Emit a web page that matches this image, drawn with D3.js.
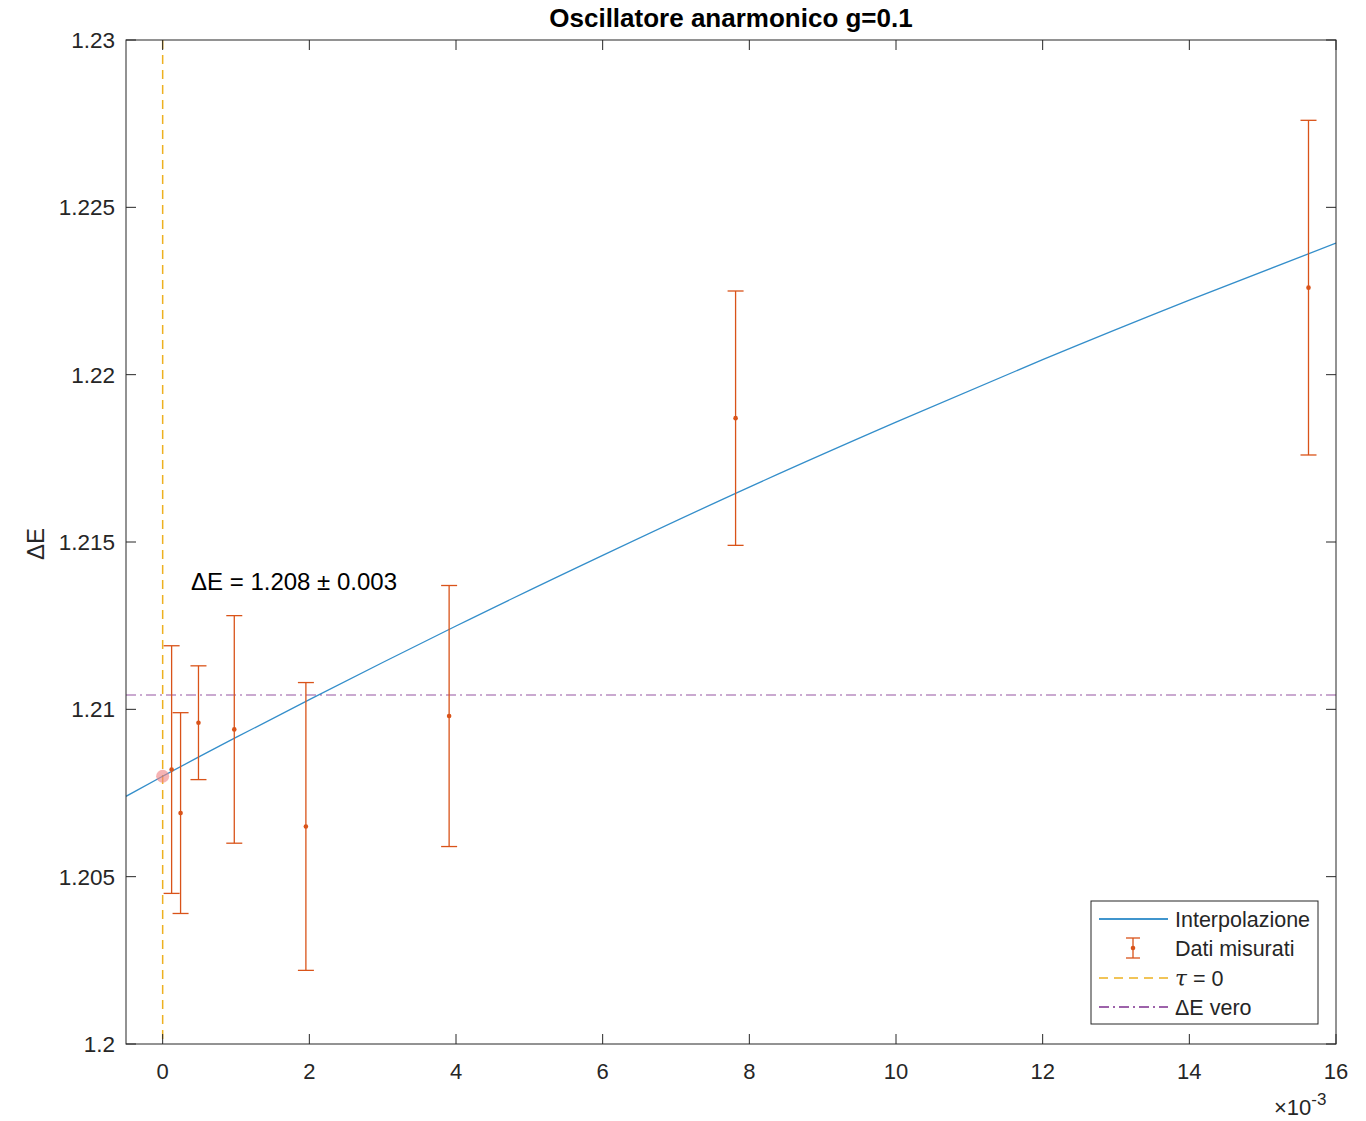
<!DOCTYPE html>
<html><head><meta charset="utf-8">
<script src="https://cdn.jsdelivr.net/npm/d3@7"></script>
<style>body{margin:0;background:#fff}text{font-family:"Liberation Sans",Arial,Helvetica,sans-serif}</style>
</head><body>
<svg id="c" width="1366" height="1121"></svg>
<script>
// data (x in units of 1e-3)
const tau2 = [0.1220703, 0.2441406, 0.4882813, 0.9765625, 1.953125, 3.90625, 7.8125, 15.625];
const deltaE = [1.2082, 1.2069, 1.2096, 1.2094, 1.2065, 1.2098, 1.2187, 1.2226];
const errs = [0.0037, 0.0030, 0.0017, 0.0034, 0.0043, 0.0039, 0.0038, 0.0050];
const fitX = [-0.5, 0, 1, 2, 3, 4, 6, 8, 10, 12, 14, 16];
const fitY = [1.2074, 1.2080, 1.20916, 1.21029, 1.21140, 1.21249, 1.21460, 1.21664, 1.21858, 1.22045, 1.22223, 1.22393];
const trueDE = 1.21043;
const extrap = {x: 0, y: 1.208};
const xTicks = [0, 2, 4, 6, 8, 10, 12, 14, 16];
const yTicks = [1.2, 1.205, 1.21, 1.215, 1.22, 1.225, 1.23];
const yTickLabels = ["1.2", "1.205", "1.21", "1.215", "1.22", "1.225", "1.23"];
const legendLabels = ["Interpolazione", "Dati misurati", "τ = 0", "ΔE vero"];

const svg = d3.select("#c");
const L = 126, R = 1336, T = 40, B = 1044;
const x = d3.scaleLinear().domain([-0.5, 16]).range([L, R]);
const y = d3.scaleLinear().domain([1.2, 1.23]).range([B, T]);
const axisCol = "#262626";
const blue = "#0072BD", orange = "#D95319", yellow = "#EDB120", purple = "#7E2F8E";

const g = svg.append("g");
svg.append("defs").append("clipPath").attr("id", "clip").append("rect")
  .attr("x", L).attr("y", T).attr("width", R - L).attr("height", B - T);
const plot = g.append("g").attr("clip-path", "url(#clip)");

// tau=0 line
plot.append("line").attr("x1", x(0)).attr("x2", x(0)).attr("y1", T).attr("y2", B)
  .attr("stroke", yellow).attr("stroke-width", 1.5).attr("stroke-dasharray", "9,6");
// true line
plot.append("line").attr("x1", L).attr("x2", R).attr("y1", y(trueDE)).attr("y2", y(trueDE))
  .attr("stroke", purple).attr("stroke-opacity", 0.55).attr("stroke-width", 1.5).attr("stroke-dasharray", "10,4,2,4");
// fit
plot.append("path").datum(fitX.map((d, i) => [d, fitY[i]]))
  .attr("d", d3.line().x(d => x(d[0])).y(d => y(d[1])).curve(d3.curveMonotoneX))
  .attr("fill", "none").attr("stroke", blue).attr("stroke-opacity", 0.8).attr("stroke-width", 1.3);
// extrapolated point
plot.append("circle").attr("cx", x(extrap.x)).attr("cy", y(extrap.y)).attr("r", 6.5)
  .attr("fill", "#f08080").attr("fill-opacity", 0.6);
// error bars
const eb = plot.selectAll(".eb").data(tau2.map((d, i) => ({x: d, y: deltaE[i], e: errs[i]}))).enter().append("g");
eb.append("line").attr("x1", d => x(d.x)).attr("x2", d => x(d.x)).attr("y1", d => y(d.y - d.e)).attr("y2", d => y(d.y + d.e))
  .attr("stroke", orange).attr("stroke-width", 1.3);
eb.append("line").attr("x1", d => x(d.x) - 8).attr("x2", d => x(d.x) + 8).attr("y1", d => y(d.y + d.e)).attr("y2", d => y(d.y + d.e))
  .attr("stroke", orange).attr("stroke-width", 1.3);
eb.append("line").attr("x1", d => x(d.x) - 8).attr("x2", d => x(d.x) + 8).attr("y1", d => y(d.y - d.e)).attr("y2", d => y(d.y - d.e))
  .attr("stroke", orange).attr("stroke-width", 1.3);
eb.append("circle").attr("cx", d => x(d.x)).attr("cy", d => y(d.y)).attr("r", 2.3).attr("fill", orange);

// axes box
g.append("rect").attr("x", L).attr("y", T).attr("width", R - L).attr("height", B - T)
  .attr("fill", "none").attr("stroke", axisCol).attr("stroke-width", 1);
const tl = 10;
const ax = g.append("g");
xTicks.forEach(t => {
  ax.append("line").attr("x1", x(t)).attr("x2", x(t)).attr("y1", B).attr("y2", B - tl).attr("stroke", axisCol);
  ax.append("line").attr("x1", x(t)).attr("x2", x(t)).attr("y1", T).attr("y2", T + tl).attr("stroke", axisCol);
  ax.append("text").attr("x", x(t)).attr("y", 1079).attr("text-anchor", "middle").attr("font-size", 22)
    .attr("fill", axisCol).text(t);
});
yTicks.forEach((t, i) => {
  ax.append("line").attr("x1", L).attr("x2", L + tl).attr("y1", y(t)).attr("y2", y(t)).attr("stroke", axisCol);
  ax.append("line").attr("x1", R).attr("x2", R - tl).attr("y1", y(t)).attr("y2", y(t)).attr("stroke", axisCol);
  ax.append("text").attr("x", 115).attr("y", y(t) + 8).attr("text-anchor", "end").attr("font-size", 22.5)
    .attr("fill", axisCol).text(yTickLabels[i]);
});
// exponent
const ex = g.append("text").attr("x", 1274).attr("y", 1115).attr("font-size", 22).attr("fill", axisCol);
ex.append("tspan").text("×10");
ex.append("tspan").attr("dy", -10).attr("font-size", 17).text("-3");

// title
g.append("text").attr("x", 731).attr("y", 27).attr("text-anchor", "middle").attr("font-size", 26)
  .attr("font-weight", "bold").attr("fill", "#000").text("Oscillatore anarmonico g=0.1");
// y label
g.append("text").attr("transform", "translate(44,544) rotate(-90)").attr("text-anchor", "middle")
  .attr("font-size", 24).attr("fill", axisCol).text("ΔE");
// annotation
g.append("text").attr("x", 191).attr("y", 590).attr("font-size", 24).attr("fill", "#000").text("ΔE = 1.208 ± 0.003");

// legend
const lg = g.append("g");
lg.append("rect").attr("x", 1091).attr("y", 901).attr("width", 227).attr("height", 123)
  .attr("fill", "#fff").attr("stroke", axisCol).attr("stroke-width", 1);
const ly = [919, 948, 978, 1007];
lg.append("line").attr("x1", 1099).attr("x2", 1168).attr("y1", ly[0]).attr("y2", ly[0]).attr("stroke", blue).attr("stroke-width", 1.3);
lg.append("line").attr("x1", 1133).attr("x2", 1133).attr("y1", ly[1] - 10).attr("y2", ly[1] + 10).attr("stroke", orange).attr("stroke-width", 1.3);
lg.append("line").attr("x1", 1126).attr("x2", 1140).attr("y1", ly[1] - 10).attr("y2", ly[1] - 10).attr("stroke", orange).attr("stroke-width", 1.3);
lg.append("line").attr("x1", 1126).attr("x2", 1140).attr("y1", ly[1] + 10).attr("y2", ly[1] + 10).attr("stroke", orange).attr("stroke-width", 1.3);
lg.append("circle").attr("cx", 1133).attr("cy", ly[1]).attr("r", 2.3).attr("fill", orange);
lg.append("line").attr("x1", 1099).attr("x2", 1168).attr("y1", ly[2]).attr("y2", ly[2]).attr("stroke", yellow).attr("stroke-width", 1.3).attr("stroke-dasharray", "9,6");
lg.append("line").attr("x1", 1099).attr("x2", 1168).attr("y1", ly[3]).attr("y2", ly[3]).attr("stroke", purple).attr("stroke-width", 1.3).attr("stroke-dasharray", "10,4,2,4");
legendLabels.forEach((t, i) => {
  const tx = lg.append("text").attr("x", 1175).attr("y", ly[i] + 8).attr("font-size", 21.5).attr("fill", axisCol);
  if (i === 2) {
    tx.append("tspan").attr("font-style", "italic").attr("font-family", "'DejaVu Serif',serif").text("τ");
    tx.append("tspan").text(" = 0");
  } else tx.text(t);
});
</script>
</body></html>
